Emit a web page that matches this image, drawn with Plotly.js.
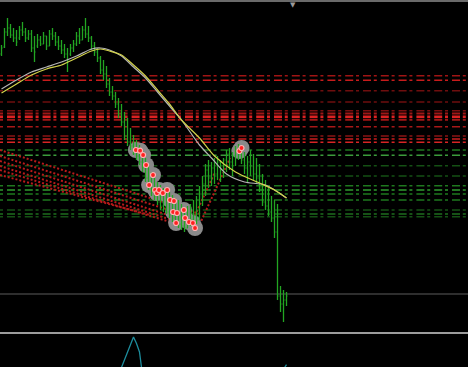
<!DOCTYPE html>
<html><head><meta charset="utf-8">
<script src="https://cdn.plot.ly/plotly-3.0.1.min.js"></script>
<style>html,body{margin:0;padding:0;background:#000;}#chart{width:468px;height:367px;}</style>
</head><body><div id="chart"></div>
<script>
// ---- price bars (fictitious price units) ----
const barHigh  = [355,372,382,376,372,370,374,378,372,370,370,364,366,364,368,364,370,372,368,364,360,356,352,356,360,368,372,374,382,374,364,358,352,344,340,334,322,314,308,302,296,288,282,272,265,260,255,250,242,235,228,222,218,215,212,210,208,205,202,200,196,192,194,196,200,204,214,224,236,240,238,242,244,240,242,250,252,248,254,256,254,248,244,250,246,242,236,226,220,212,204,200,196,114,110,108];
const barLow   = [344,352,364,362,358,354,360,364,358,360,348,338,352,354,356,350,354,360,354,350,346,342,328,344,348,354,356,360,362,358,350,344,338,326,320,312,304,300,292,282,274,260,254,250,245,240,235,228,218,210,204,200,195,190,188,186,182,178,175,172,170,168,172,174,178,176,180,194,204,212,214,216,220,218,222,228,230,224,234,240,236,226,218,224,220,216,208,194,190,184,178,162,100,88,78,94];
const barOpen  = [346,353,368,372,365,362,362,370,368,362,366,352,354,360,356,364,354,366,364,358,354,350,346,346,352,356,364,360,370,366,362,354,348,342,330,326,316,308,304,296,286,278,264,258,254,248,244,238,232,222,214,208,204,198,194,192,188,185,182,178,176,174,172,178,180,186,180,206,216,230,222,232,226,238,230,240,246,238,244,250,246,240,232,238,234,226,222,212,198,194,188,182,168,104,96,100];
const barClose = [352,368,372,365,362,358,370,368,362,366,352,348,360,356,364,354,366,364,358,354,350,346,340,352,356,364,360,370,366,362,354,348,342,330,326,316,308,304,296,286,278,264,258,254,248,244,238,232,222,214,208,204,198,194,192,188,185,182,178,176,174,172,178,180,186,180,206,216,230,222,232,226,238,230,240,246,238,244,250,246,240,232,238,234,226,222,212,198,194,188,182,168,104,96,100,104];
const barIndex = barHigh.map((_, i) => i);

// ---- moving averages ----
const maYellowX = [0,5,10,15,20,25,30,33,36,40,44,48,52,56,60,66,71,78,86,91,95];
const maYellowY = [307,316,325,331,335,342,349,351,349,345,335,324,310,296,280,262,244,228,217,210,202];
const maGrayX   = [0,5,10,15,20,25,30,33,36,40,44,48,52,56,60,66,70,75,81,88,95];
const maGrayY   = [311,320,328,333,338,344,351,352,350,344,333,322,308,294,280,255,242,226,218,215,202];

// ---- horizontal levels ----
const resistLevels = [324.3,319.7,309.3,298,289.3,286.4,283.3,280.2,273.3,264,261,257.7];
const supportLevels = [250,244.7,234.3,224,214.3,210,206,200,190,186,183.3];
const bidLevel = [106];

// ---- trend lines (start/end) ----
const trendX0 = [-0.5,-0.5,-0.5,-0.5,-0.5,-0.5,62.2,65.5];
const trendY0 = [250,244,239,234,230,225,170,172];
const trendX1 = [66.2,66.2,62.8,61.2,56.2,49.5,71.2,76.2];
const trendY1 = [186,180,178,176,178,185,228,242];

// ---- signal markers ----
const signalX = [44.8,46.2,47.2,48.2,49.2,50.5,51.2,51.8,52.5,53.8,55.2,56.2,57.5,57.2,58.5,58.2,60.8,61.2,62.5,63.8,64.5,79.3,80.0];
const signalY = [250,249.3,245,235,215,225,210,207,210,207,210,200,199,188,187,177,190,182,178,177,172,249,252];

// ---- oscillator (lower panel) ----
const oscX = [39,40,41,42,43,44,45,46,47,48,49,92,93,94,95];
const oscY = [-50,-3,44,94,141,187,147,94,-50,-150,null,null,-45,-15,15];

// ---- styles ----
const resistColors = ['#a01414','#c81c1c','#6e0e0e','#6e0e0e','#7a1010','#a01616','#dc2222','#a01616','#a81818','#8a1414','#c81e1e','#d82424'];
const resistWidths = [1.5,1.5,1.5,1.5,1.5,2,2.5,2,1.5,1.5,1.5,1.5];
const supportColors = ['#1e781e','#3c9c3c','#145014','#145014','#1e781e','#2e9a2e','#1e781e','#1e781e','#145014','#1e6e1e','#145014'];
const dashPat = '3px,4px,8px,2.8px';

const shapes = [];
resistLevels.forEach((v, i) => shapes.push({type:'line', xref:'paper', x0:0, x1:1, yref:'y', y0:v, y1:v, layer:'below',
  line:{color:resistColors[i], width:resistWidths[i], dash:dashPat}}));
supportLevels.forEach((v, i) => shapes.push({type:'line', xref:'paper', x0:0, x1:1, yref:'y', y0:v, y1:v, layer:'below',
  line:{color:supportColors[i], width:1.5, dash:dashPat}}));
bidLevel.forEach(v => shapes.push({type:'line', xref:'paper', x0:0, x1:1, yref:'y', y0:v, y1:v, layer:'below',
  line:{color:'#5c5c5c', width:1}}));
// frame lines
shapes.push({type:'line', xref:'paper', yref:'paper', x0:0, x1:1, y0:1-1/367, y1:1-1/367, line:{color:'#6a6a6a', width:2}});
shapes.push({type:'line', xref:'paper', yref:'paper', x0:0, x1:1, y0:34/367, y1:34/367, line:{color:'#9c9c9c', width:2}});

const traces = [];
// trend lines (base subplot)
trendX0.forEach((x0, i) => traces.push({type:'scatter', mode:'lines', x:[x0, trendX1[i]], y:[trendY0[i], trendY1[i]],
  line:{color:'#b81a1a', width:2, dash:'2px,2px'}, hoverinfo:'skip', showlegend:false}));
// signal halos (base subplot)
traces.push({type:'scatter', mode:'markers', x:signalX, y:signalY, marker:{size:16, color:'#8a8a8a'}, hoverinfo:'skip', showlegend:false});
// bars (overlay)
traces.push({type:'ohlc', x:barIndex, open:barOpen, high:barHigh, low:barLow, close:barClose, xaxis:'x2', yaxis:'y2',
  increasing:{line:{color:'#22a622', width:1.3}}, decreasing:{line:{color:'#22a622', width:1.3}}, tickwidth:0.3, hoverinfo:'skip', showlegend:false});
// MAs and signals (top overlay)
traces.push({type:'scatter', mode:'lines', x:maGrayX, y:maGrayY, xaxis:'x3', yaxis:'y3', line:{color:'#b4b4b4', width:1.2, shape:'spline', smoothing:0.7}, hoverinfo:'skip', showlegend:false});
traces.push({type:'scatter', mode:'lines', x:maYellowX, y:maYellowY, xaxis:'x3', yaxis:'y3', line:{color:'#d2d24a', width:1.2, shape:'spline', smoothing:0.7}, hoverinfo:'skip', showlegend:false});
traces.push({type:'scatter', mode:'markers', x:signalX, y:signalY, xaxis:'x3', yaxis:'y3', marker:{size:5, color:'#ff2020', line:{color:'#ffb4b4', width:1.2}}, hoverinfo:'skip', showlegend:false});
// oscillator
traces.push({type:'scatter', mode:'lines', x:oscX, y:oscY, xaxis:'x', yaxis:'y4', line:{color:'#1d8d9d', width:1.3}, connectgaps:false, hoverinfo:'skip', showlegend:false});

const xr = [-0.5, 155.5], yr = [33, 400];
const hid = {visible:false, showgrid:false, zeroline:false, fixedrange:true};
const layout = {
  width:468, height:367, margin:{l:0, r:0, t:0, b:0},
  paper_bgcolor:'#000', plot_bgcolor:'#000', showlegend:false,
  xaxis:Object.assign({range:xr, rangeslider:{visible:false}}, hid),
  yaxis:Object.assign({range:yr, domain:[0,1]}, hid),
  xaxis2:Object.assign({range:xr, overlaying:'x', rangeslider:{visible:false}}, hid),
  yaxis2:Object.assign({range:yr, overlaying:'y'}, hid),
  xaxis3:Object.assign({range:xr, overlaying:'x'}, hid),
  yaxis3:Object.assign({range:yr, overlaying:'y'}, hid),
  yaxis4:Object.assign({range:[0,200], domain:[0, 32/367], anchor:'x'}, hid),
  shapes:shapes,
  annotations:[{xref:'paper', yref:'paper', x:293/468, y:1, yanchor:'top', xanchor:'center', yshift:1, showarrow:false,
    text:'▼', font:{size:7, color:'#9a9a9a', family:'DejaVu Sans'}}]
};
Plotly.newPlot('chart', traces, layout, {staticPlot:true, displayModeBar:false});
</script>
</body></html>
